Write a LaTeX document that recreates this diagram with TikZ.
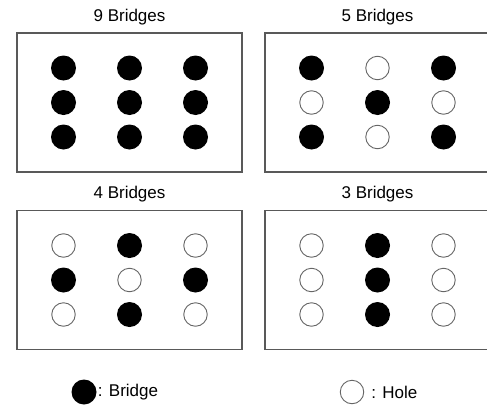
\documentclass[tikz,border=0pt]{standalone}
\usepackage{fontspec}
\setmainfont{Liberation Sans}
\usepackage{tikz}
\usetikzlibrary{positioning}

\tikzset{
  panel/.style={draw=black!65, line width=1.5pt, minimum width=225pt, minimum height=139pt, inner sep=0pt},
  bridge/.style={circle, fill=black, inner sep=0pt, minimum size=25pt},
  hole/.style={circle, draw=black!60, line width=0.9pt, fill=white, inner sep=0pt, minimum size=23.5pt},
  caption/.style={font=\fontsize{17}{20}\selectfont, inner sep=0pt},
}

\begin{document}
\begin{tikzpicture}[x=1pt, y=-1pt]
    \useasboundingbox (0,0) rectangle (487,407);

    % the four plates, each with its 3x3 grid
    \foreach \name/\cx/\cy/\txt/\pat in {
        nine/129.5/102.5/9 Bridges/{bridge,bridge,bridge,bridge,bridge,bridge,bridge,bridge,bridge},
        five/377.5/102.5/5 Bridges/{bridge,hole,bridge,hole,bridge,hole,bridge,hole,bridge},
        four/129.5/280/4 Bridges/{hole,bridge,hole,bridge,hole,bridge,hole,bridge,hole},
        three/377.5/280/3 Bridges/{hole,bridge,hole,hole,bridge,hole,hole,bridge,hole}} {
      \node[panel] (\name) at (\cx,\cy) {};
      \node[caption, anchor=base] (\name-title) at ([yshift=11pt]\name.north) {\txt};
      \foreach \s [count=\i from 0] in \pat {
        \pgfmathsetmacro{\px}{\cx + (mod(\i,3)-1)*66}
        \pgfmathsetmacro{\py}{\cy + (int(\i/3)-1)*34.5}
        \node[\s] (\name-\i) at (\px,\py) {};
      }
    }

    % legend
    \node[bridge] (keyb) at (84,392) {};
    \node[caption, right=1pt of keyb] (keyb-text) {: Bridge};
    \node[hole] (keyh) at (352,392) {};
    \node[caption, right=7pt of keyh] (keyh-text) {: Hole};
\end{tikzpicture}
\end{document}
